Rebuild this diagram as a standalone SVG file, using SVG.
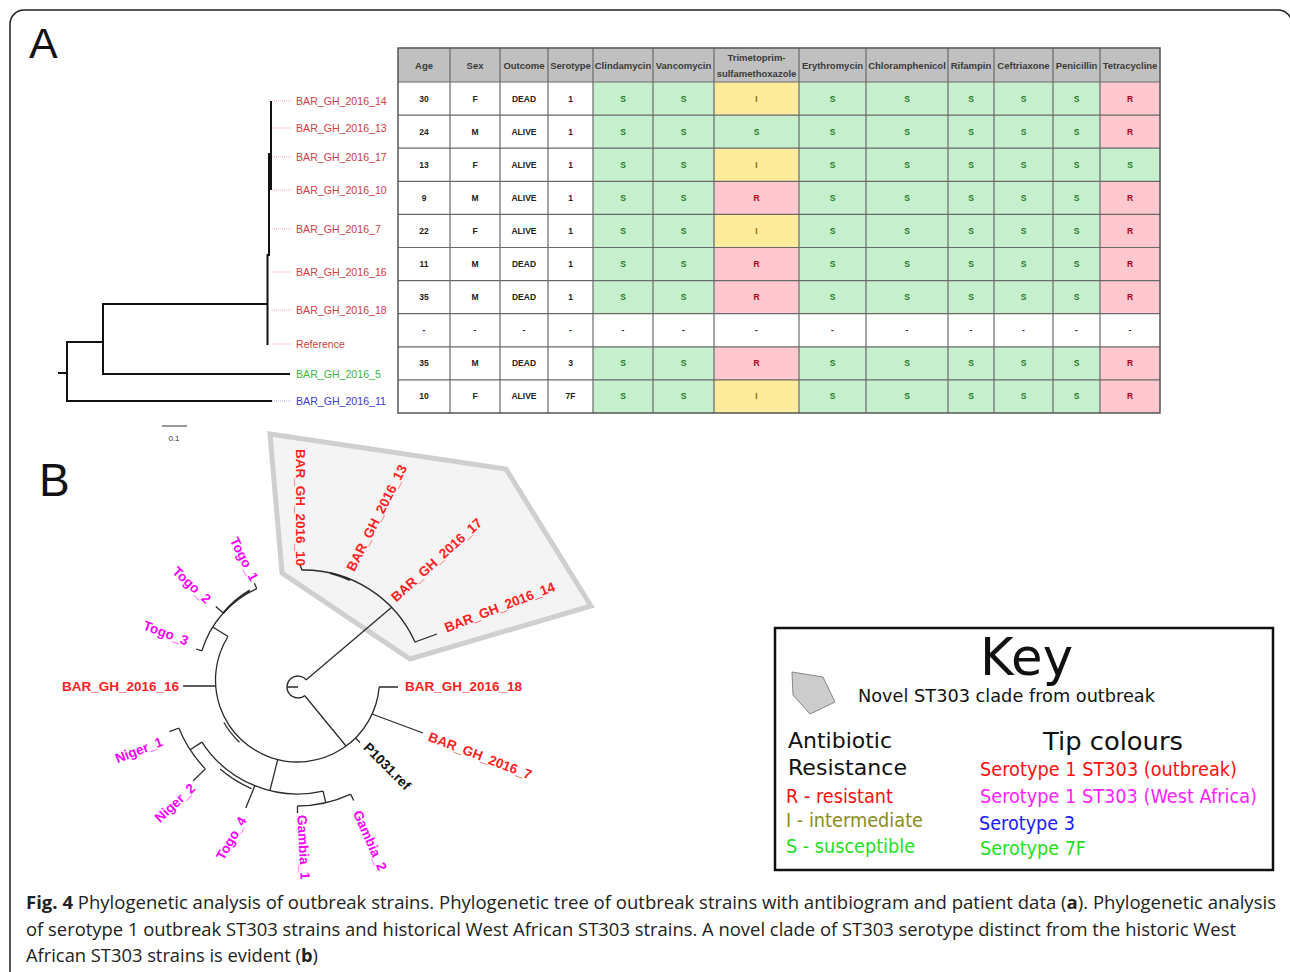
<svg xmlns="http://www.w3.org/2000/svg" width="1290" height="972" viewBox="0 0 1290 972">
<style>
.hd{font:bold 9.5px "Liberation Sans",Arial,sans-serif;fill:#3a3a3a;text-anchor:middle}
.bd{font:bold 8.5px "Liberation Sans",Arial,sans-serif;fill:#222;text-anchor:middle}
.s{fill:#1e7b1e}.r{fill:#b00010}.i{fill:#9c6500}
.ta{font:10.6px "Liberation Sans",Arial,sans-serif}
.tb{font:bold 13.5px "Liberation Sans",Arial,sans-serif}
.red{fill:#ff1f1f}.mag{fill:#ff00ff}.blk{fill:#111}
.tr{fill:none;stroke:#111;stroke-width:2}
.tbr{fill:none;stroke:#2a2a2a;stroke-width:1.3}
.ld{stroke-dasharray:1 1;stroke-width:1}
.key{font-family:"DejaVu Sans",sans-serif}
.cap{font:18px "Open Sans",sans-serif;fill:#222}
.gy{fill:#ffeb9c}.rd{fill:#ffc7ce}
</style>
<rect x="10" y="10" width="1282" height="990" rx="14" fill="#fff" stroke="#222" stroke-width="1.5"/>
<text x="29" y="58" font-family="Liberation Sans, Arial, sans-serif" font-size="43" fill="#111">A</text>
<text x="39" y="496" font-family="Liberation Sans, Arial, sans-serif" font-size="46" fill="#111">B</text>

<g id="treeA">
<path class="tr" d="M271,101V190 M269,153V256 M267.5,254V345 M103,304H268 M103,303V375 M103,374H290 M67,341V402 M67,342H104 M67,401H272 M58,373H67"/>
<path class="ld" stroke="#f0a8a8" d="M272,101H292 M272,128H292 M272,157H292 M272,190H292 M272,229H292 M272,272H292 M272,310H292 M272,344H292"/>
<path class="ld" stroke="#b0b0f0" d="M272,401H292"/>
<g class="ta" fill="#d04040">
<text x="296" y="105">BAR_GH_2016_14</text>
<text x="296" y="132">BAR_GH_2016_13</text>
<text x="296" y="161">BAR_GH_2016_17</text>
<text x="296" y="194">BAR_GH_2016_10</text>
<text x="296" y="233">BAR_GH_2016_7</text>
<text x="296" y="276">BAR_GH_2016_16</text>
<text x="296" y="314">BAR_GH_2016_18</text>
<text x="296" y="348">Reference</text>
</g>
<text class="ta" x="296" y="378" fill="#3cb83c">BAR_GH_2016_5</text>
<text class="ta" x="296" y="405" fill="#3b3bd0">BAR_GH_2016_11</text>
<path d="M162,426H187" stroke="#777" stroke-width="1.5"/>
<text x="174" y="441" font-family="Liberation Sans, Arial, sans-serif" font-size="8" fill="#333" text-anchor="middle">0.1</text>
</g>

<g id="table">
<rect x="398" y="48" width="762" height="34" fill="#c0c0c0"/>
<rect x="398" y="82" width="762" height="331" fill="#fff"/>
<rect x="593" y="82" width="567" height="231.7" fill="#c6efce"/>
<rect x="593" y="346.8" width="567" height="66.2" fill="#c6efce"/>
<rect class="gy" x="714" y="82" width="85" height="33.1"/><rect class="rd" x="1100" y="82" width="60" height="33.1"/>
<rect class="rd" x="1100" y="115.1" width="60" height="33.1"/>
<rect class="gy" x="714" y="148.2" width="85" height="33.1"/>
<rect class="rd" x="714" y="181.3" width="85" height="33.1"/><rect class="rd" x="1100" y="181.3" width="60" height="33.1"/>
<rect class="gy" x="714" y="214.4" width="85" height="33.1"/><rect class="rd" x="1100" y="214.4" width="60" height="33.1"/>
<rect class="rd" x="714" y="247.5" width="85" height="33.1"/><rect class="rd" x="1100" y="247.5" width="60" height="33.1"/>
<rect class="rd" x="714" y="280.6" width="85" height="33.1"/><rect class="rd" x="1100" y="280.6" width="60" height="33.1"/>
<rect class="rd" x="714" y="346.8" width="85" height="33.1"/><rect class="rd" x="1100" y="346.8" width="60" height="33.1"/>
<rect class="gy" x="714" y="379.9" width="85" height="33.1"/><rect class="rd" x="1100" y="379.9" width="60" height="33.1"/>
<path fill="none" stroke="#6a6a6a" stroke-width="1.2" d="M450,48V413 M500,48V413 M548,48V413 M593,48V413 M653,48V413 M714,48V413 M799,48V413 M866,48V413 M948,48V413 M994,48V413 M1053,48V413 M1100,48V413 M398,82H1160 M398,115.1H1160 M398,148.2H1160 M398,181.3H1160 M398,214.4H1160 M398,247.5H1160 M398,280.6H1160 M398,313.7H1160 M398,346.8H1160 M398,379.9H1160"/>
<rect x="398" y="48" width="762" height="365" fill="none" stroke="#555" stroke-width="1.5"/>
<text class="hd" y="68.5"><tspan x="424">Age</tspan><tspan x="475">Sex</tspan><tspan x="524">Outcome</tspan><tspan x="623">Clindamycin</tspan><tspan x="683.5">Vancomycin</tspan><tspan x="832.5">Erythromycin</tspan><tspan x="907">Chloramphenicol</tspan><tspan x="971">Rifampin</tspan><tspan x="1023.5">Ceftriaxone</tspan><tspan x="1076.5">Penicillin</tspan><tspan x="1130">Tetracycline</tspan></text>
<text class="hd" x="570.5" y="68.5" font-style="italic">Serotype</text>
<text class="hd" x="756.5" y="61">Trimetoprim-</text>
<text class="hd" x="756.5" y="77">sulfamethoxazole</text>

<text class="bd" y="101.5"><tspan x="424">30</tspan><tspan x="475">F</tspan><tspan x="524">DEAD</tspan><tspan x="570.5">1</tspan></text>
<text class="bd" y="134.6"><tspan x="424">24</tspan><tspan x="475">M</tspan><tspan x="524">ALIVE</tspan><tspan x="570.5">1</tspan></text>
<text class="bd" y="167.7"><tspan x="424">13</tspan><tspan x="475">F</tspan><tspan x="524">ALIVE</tspan><tspan x="570.5">1</tspan></text>
<text class="bd" y="200.8"><tspan x="424">9</tspan><tspan x="475">M</tspan><tspan x="524">ALIVE</tspan><tspan x="570.5">1</tspan></text>
<text class="bd" y="233.9"><tspan x="424">22</tspan><tspan x="475">F</tspan><tspan x="524">ALIVE</tspan><tspan x="570.5">1</tspan></text>
<text class="bd" y="267"><tspan x="424">11</tspan><tspan x="475">M</tspan><tspan x="524">DEAD</tspan><tspan x="570.5">1</tspan></text>
<text class="bd" y="300.1"><tspan x="424">35</tspan><tspan x="475">M</tspan><tspan x="524">DEAD</tspan><tspan x="570.5">1</tspan></text>
<text class="bd" y="333.2"><tspan x="424">-</tspan><tspan x="475">-</tspan><tspan x="524">-</tspan><tspan x="570.5">-</tspan><tspan x="623">-</tspan><tspan x="683.5">-</tspan><tspan x="756.5">-</tspan><tspan x="832.5">-</tspan><tspan x="907">-</tspan><tspan x="971">-</tspan><tspan x="1023.5">-</tspan><tspan x="1076.5">-</tspan><tspan x="1130">-</tspan></text>
<text class="bd" y="366.3"><tspan x="424">35</tspan><tspan x="475">M</tspan><tspan x="524">DEAD</tspan><tspan x="570.5">3</tspan></text>
<text class="bd" y="399.4"><tspan x="424">10</tspan><tspan x="475">F</tspan><tspan x="524">ALIVE</tspan><tspan x="570.5">7F</tspan></text>

<g class="bd s">
<text y="101.5"><tspan x="623">S</tspan><tspan x="683.5">S</tspan><tspan x="832.5">S</tspan><tspan x="907">S</tspan><tspan x="971">S</tspan><tspan x="1023.5">S</tspan><tspan x="1076.5">S</tspan></text>
<text y="134.6"><tspan x="623">S</tspan><tspan x="683.5">S</tspan><tspan x="756.5">S</tspan><tspan x="832.5">S</tspan><tspan x="907">S</tspan><tspan x="971">S</tspan><tspan x="1023.5">S</tspan><tspan x="1076.5">S</tspan></text>
<text y="167.7"><tspan x="623">S</tspan><tspan x="683.5">S</tspan><tspan x="832.5">S</tspan><tspan x="907">S</tspan><tspan x="971">S</tspan><tspan x="1023.5">S</tspan><tspan x="1076.5">S</tspan><tspan x="1130">S</tspan></text>
<text y="200.8"><tspan x="623">S</tspan><tspan x="683.5">S</tspan><tspan x="832.5">S</tspan><tspan x="907">S</tspan><tspan x="971">S</tspan><tspan x="1023.5">S</tspan><tspan x="1076.5">S</tspan></text>
<text y="233.9"><tspan x="623">S</tspan><tspan x="683.5">S</tspan><tspan x="832.5">S</tspan><tspan x="907">S</tspan><tspan x="971">S</tspan><tspan x="1023.5">S</tspan><tspan x="1076.5">S</tspan></text>
<text y="267"><tspan x="623">S</tspan><tspan x="683.5">S</tspan><tspan x="832.5">S</tspan><tspan x="907">S</tspan><tspan x="971">S</tspan><tspan x="1023.5">S</tspan><tspan x="1076.5">S</tspan></text>
<text y="300.1"><tspan x="623">S</tspan><tspan x="683.5">S</tspan><tspan x="832.5">S</tspan><tspan x="907">S</tspan><tspan x="971">S</tspan><tspan x="1023.5">S</tspan><tspan x="1076.5">S</tspan></text>
<text y="366.3"><tspan x="623">S</tspan><tspan x="683.5">S</tspan><tspan x="832.5">S</tspan><tspan x="907">S</tspan><tspan x="971">S</tspan><tspan x="1023.5">S</tspan><tspan x="1076.5">S</tspan></text>
<text y="399.4"><tspan x="623">S</tspan><tspan x="683.5">S</tspan><tspan x="832.5">S</tspan><tspan x="907">S</tspan><tspan x="971">S</tspan><tspan x="1023.5">S</tspan><tspan x="1076.5">S</tspan></text>
</g>
<g class="bd r">
<text y="101.5" x="1130">R</text>
<text y="134.6" x="1130">R</text>
<text y="200.8"><tspan x="756.5">R</tspan><tspan x="1130">R</tspan></text>
<text y="233.9" x="1130">R</text>
<text y="267"><tspan x="756.5">R</tspan><tspan x="1130">R</tspan></text>
<text y="300.1"><tspan x="756.5">R</tspan><tspan x="1130">R</tspan></text>
<text y="366.3"><tspan x="756.5">R</tspan><tspan x="1130">R</tspan></text>
<text y="399.4" x="1130">R</text>
</g>
<g class="bd i">
<text y="101.5" x="756.5">I</text>
<text y="167.7" x="756.5">I</text>
<text y="233.9" x="756.5">I</text>
<text y="399.4" x="756.5">I</text>
</g>
</g>

<g id="clade-hull">
<polygon points="270,434 506,469 591,606 410,659 282,573" fill="#f4f4f4" stroke="#cfcfcf" stroke-width="5"/>
</g>

<g id="treeB-branches" class="tbr">
<path d="M306,680 L392,607"/>
<path d="M300,565 L302,570 A122,122 0 0,1 415,642 L437,634"/>
<path d="M330,573 A122,122 0 0,1 350,580" stroke-width="2"/>
<path d="M306.4,679.9 A11,11 0 1,0 305.1,695.4 M287,687 H298"/>
<path d="M305,696 L346,746"/>
<path d="M379.2,687.1 A82,82 0 1,1 228,636.5"/>
<path d="M379,687 H398 M372,714 L423,733 M355.5,738 L360,742.5 M183,686 H215"/>
<path d="M223.9,722.5 A85,85 0 0,0 239.5,742.2"/>
<path d="M277.7,759.6 L269.9,790.6"/>
<path d="M201.9,742.1 A114,114 0 0,0 323.1,791.1"/>
<path d="M220.1,769.1 A118,118 0 0,0 251.4,788.6"/>
<path d="M201.9,742.1 L190.1,749.7 M178.8,728 A128,128 0 0,0 205.4,768.9 M178.8,728 L169.5,731.7 M205.4,768.9 L193.2,780.7"/>
<path d="M254.8,785.7 L245.8,808"/>
<path d="M323.1,791.1 L325.8,802.8 M297.5,806 A126,126 0 0,0 350.7,794.2 M297.5,806 V813 M350.7,794.2 L353.7,800.5"/>
<path d="M228,636.5 L212.7,627 M201.9,650.8 A100,100 0 0,1 256.8,588.6 M201.9,650.8 L196.1,649 M223.2,613.1 L215.8,606.4 M256.8,588.6 L254.4,583.2"/>
<path d="M223.2,613.1 A101.5,101.5 0 0,1 249.8,590.4" stroke-width="2"/>
</g>

<g id="treeB-labels" class="tb">
<text class="red" transform="translate(301,566) rotate(90)" text-anchor="end" dy=".35em">BAR_GH_2016_10</text>
<text class="red" transform="translate(350,570) rotate(-63)" dy=".35em">BAR_GH_2016_13</text>
<text class="red" transform="translate(393,599) rotate(-42)" dy=".35em">BAR_GH_2016_17</text>
<text class="red" transform="translate(445,628) rotate(-21)" dy=".35em">BAR_GH_2016_14</text>
<text class="red" x="405" y="686" dy=".35em">BAR_GH_2016_18</text>
<text class="red" transform="translate(429,736) rotate(21)" dy=".35em">BAR_GH_2016_7</text>
<text class="blk" transform="translate(366,745) rotate(45)" dy=".35em">P1031.ref</text>
<text class="mag" transform="translate(357,811) rotate(66)" dy=".35em">Gambia_2</text>
<text class="mag" transform="translate(302,815) rotate(87)" dy=".35em">Gambia_1</text>
<text class="red" x="179" y="686" dy=".35em" text-anchor="end">BAR_GH_2016_16</text>
<text class="mag" transform="translate(188,641) rotate(20)" dy=".35em" text-anchor="end">Togo_3</text>
<text class="mag" transform="translate(209,601) rotate(43)" dy=".35em" text-anchor="end">Togo_2</text>
<text class="mag" transform="translate(255,580) rotate(63)" dy=".35em" text-anchor="end">Togo_1</text>
<text class="mag" transform="translate(162,741) rotate(-21)" dy=".35em" text-anchor="end">Niger_1</text>
<text class="mag" transform="translate(193,786) rotate(-43)" dy=".35em" text-anchor="end">Niger_2</text>
<text class="mag" transform="translate(243,818) rotate(-60)" dy=".35em" text-anchor="end">Togo_4</text>
</g>

<g id="key" class="key">
<rect x="775" y="628" width="498" height="242" fill="#fff" stroke="#111" stroke-width="2.5"/>
<text x="980" y="675" font-size="52" fill="#111" textLength="93" lengthAdjust="spacingAndGlyphs">Key</text>
<polygon points="792,672 823,677 835,702 810,714 793,695" fill="#cccccc" stroke="#888" stroke-width="1"/>
<text x="858" y="702" font-size="18" fill="#111" textLength="297" lengthAdjust="spacingAndGlyphs">Novel ST303 clade from outbreak</text>
<text x="788" y="748" font-size="22" fill="#111" textLength="104" lengthAdjust="spacingAndGlyphs">Antibiotic</text>
<text x="788" y="775" font-size="22" fill="#111" textLength="119" lengthAdjust="spacingAndGlyphs">Resistance</text>
<text x="786" y="803" font-size="19" fill="#ff1010" textLength="107" lengthAdjust="spacingAndGlyphs">R - resistant</text>
<text x="786" y="827" font-size="19" fill="#8b8b1a" textLength="137" lengthAdjust="spacingAndGlyphs">I - intermediate</text>
<text x="786" y="853" font-size="19" fill="#22e022" textLength="129" lengthAdjust="spacingAndGlyphs">S - susceptible</text>
<text x="1043" y="750" font-size="25" fill="#111" textLength="140" lengthAdjust="spacingAndGlyphs">Tip colours</text>
<text x="980" y="776" font-size="19" fill="#ff1010" textLength="257" lengthAdjust="spacingAndGlyphs">Serotype 1 ST303 (outbreak)</text>
<text x="980" y="803" font-size="19" fill="#ff22ff" textLength="277" lengthAdjust="spacingAndGlyphs">Serotype 1 ST303 (West Africa)</text>
<text x="979" y="830" font-size="19" fill="#1a1aff" textLength="96" lengthAdjust="spacingAndGlyphs">Serotype 3</text>
<text x="980" y="855" font-size="19" fill="#22e022" textLength="106" lengthAdjust="spacingAndGlyphs">Serotype 7F</text>
</g>

<g id="caption" class="cap">
<text x="26" y="909" textLength="1250" lengthAdjust="spacingAndGlyphs"><tspan font-weight="bold">Fig. 4</tspan> Phylogenetic analysis of outbreak strains. Phylogenetic tree of outbreak strains with antibiogram and patient data (<tspan font-weight="bold">a</tspan>). Phylogenetic analysis</text>
<text x="26" y="936" textLength="1210" lengthAdjust="spacingAndGlyphs">of serotype 1 outbreak ST303 strains and historical West African ST303 strains. A novel clade of ST303 serotype distinct from the historic West</text>
<text x="26" y="962" textLength="292" lengthAdjust="spacingAndGlyphs">African ST303 strains is evident (<tspan font-weight="bold">b</tspan>)</text>
</g>
</svg>
